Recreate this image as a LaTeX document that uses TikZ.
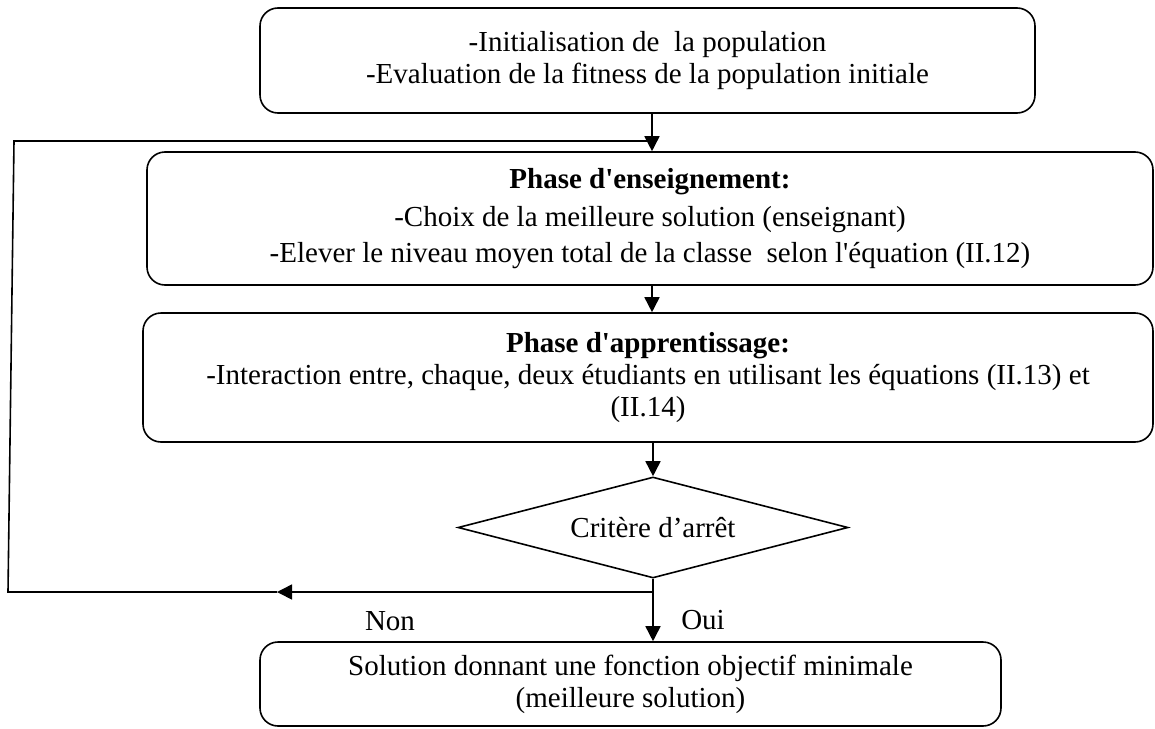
\documentclass[tikz,border=0pt]{standalone}
\usepackage{fontspec}
\setmainfont{Liberation Serif}[Ligatures=TeXOff]
\usetikzlibrary{arrows.meta,shapes.geometric}

\begin{document}
\begin{tikzpicture}[x=1pt,y=-1pt,
  txt/.style={font=\fontsize{29}{32}\selectfont},
  box/.style={txt,draw,line width=1.6pt,rounded corners=18pt,inner sep=0pt,align=center},
  decision/.style={txt,draw,line width=1.6pt,shape=diamond,shape aspect=3.86,inner sep=0pt},
  link/.style={line width=1.6pt},
  arr/.style={link,-{Triangle[width=15pt,length=15pt]}},
  lbl/.style={txt,inner sep=0pt}]
\useasboundingbox (0,0) rectangle (1155,728);

% process boxes
\node[box,minimum width=775pt,minimum height=105pt] (init) at (647.5,60.5)
  {-Initialisation de\ \ la population\\-Evaluation de la fitness de la population initiale};
\node[box,minimum width=1006pt,minimum height=133pt,font=\fontsize{29}{36}\selectfont] (teach) at (650,218.5)
  {\textbf{Phase d'enseignement:}\\[2pt]-Choix de la meilleure solution (enseignant)\\-Elever le niveau moyen total de la classe\ \ selon l'équation (II.12)};
\node[box,minimum width=1010pt,minimum height=129pt] (learn) at (648,377.5)
  {\textbf{Phase d'apprentissage:}\\-Interaction entre, chaque, deux étudiants en utilisant les équations (II.13) et\\(II.14)};
\node[decision,minimum width=390pt,minimum height=101pt] (stop) at (653,527.5) {Critère d’arrêt};
\node[box,minimum width=741pt,minimum height=84pt] (sol) at (630.5,684)
  {Solution donnant une fonction objectif minimale\\(meilleure solution)};

% branch labels
\node[lbl] (no) at (390,621) {Non};
\node[lbl] (yes) at (703,620) {Oui};

% helper points of the main line and of the loop back
\coordinate (spine) at (652,0);
\coordinate (fork) at (653,592);
\coordinate (backtip) at (277,592);
\coordinate (loopBL) at (8,592);
\coordinate (loopTL) at (14,141);

% main flow
\draw[arr] (init.south -| spine) -- (teach.north -| spine);
\draw[arr] (teach.south -| spine) -- (learn.north -| spine);
\draw[arr] (learn.south -| stop.north) -- (stop.north);
\draw[arr] (stop.south) -- (sol.north -| stop.south);

% loop back when the stop criterion is not met
\draw[arr] (fork) -- (backtip);
\draw[link] (backtip) -- (loopBL) -- (loopTL) -- (loopTL -| spine);
\end{tikzpicture}
\end{document}
